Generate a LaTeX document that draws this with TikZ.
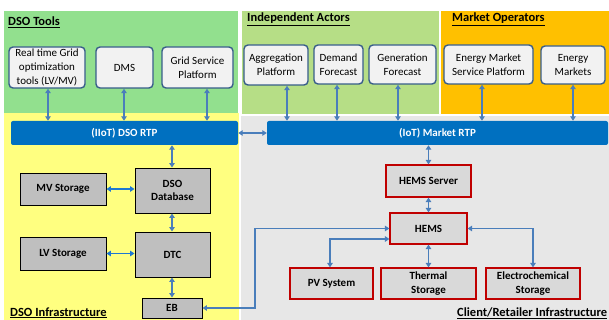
\documentclass[tikz,border=0pt]{standalone}
\usepackage{fontspec}
\setmainfont{Carlito}
\usetikzlibrary{arrows.meta}
\definecolor{dsogreen}{RGB}{146,224,142}
\definecolor{indgreen}{RGB}{182,222,134}
\definecolor{mktorange}{RGB}{255,192,0}
\definecolor{infyellow}{RGB}{255,255,128}
\definecolor{clgray}{RGB}{231,231,231}
\definecolor{barblue}{RGB}{0,112,192}
\definecolor{toolfill}{RGB}{242,242,242}
\definecolor{toolborder}{RGB}{56,93,138}
\definecolor{grayfill}{RGB}{191,191,191}
\definecolor{redfill}{RGB}{217,217,217}
\definecolor{redborder}{RGB}{192,0,0}
\definecolor{arrblue}{RGB}{74,126,187}
\definecolor{arrblue2}{RGB}{30,120,210}
\begin{document}
\begin{tikzpicture}[x=1pt,y=-1pt,
  tool/.style={draw=toolborder, line width=1.4pt, fill=toolfill, rounded corners=4pt,
    align=center, inner sep=1pt, font=\fontsize{11}{13.8}\selectfont},
  bar/.style={fill=barblue, rounded corners=2pt, text=white, inner sep=0pt,
    font=\fontsize{11}{13}\selectfont\bfseries},
  graybox/.style={draw=black, line width=0.9pt, fill=grayfill, align=center, inner sep=1pt,
    font=\fontsize{11}{13.8}\selectfont\bfseries},
  redbox/.style={draw=redborder, line width=1.2pt, fill=redfill, align=center, inner sep=1pt,
    font=\fontsize{11}{13.8}\selectfont\bfseries},
  title/.style={anchor=base west, inner sep=0pt, font=\fontsize{12.5}{14}\selectfont\bfseries},
  arr/.style={{Triangle[length=4.5pt,width=5.5pt]}-{Triangle[length=4.5pt,width=5.5pt]}, line width=1.8pt, draw=arrblue},
  arrb/.style={arr, draw=arrblue2}
]
\useasboundingbox (0,0) rectangle (609,320);
% regions
\fill[dsogreen] (4,11) rectangle (238,113);
\fill[indgreen] (242,11) rectangle (439,114);
\fill[mktorange] (441,11) rectangle (609,114);
\fill[infyellow] (4,113) rectangle (239,320);
\fill[clgray] (241,116) rectangle (609,320);
% titles
\node[title] (tdso) at (8,26) {\underline{DSO Tools}};
\node[title] (tind) at (247,21.5) {\underline{Independent Actors}};
\node[title] (tmkt) at (452,22) {\underline{Market Operators}};
\node[title] (tinf) at (10,316) {\underline{DSO Infrastructure}};
\node[title] (tcl) at (457,316.5) {\underline{Client/Retailer Infrastructure}};
% tool boxes
\node[tool, minimum width=76pt, minimum height=41pt] (rt) at (47,67.5) {Real time Grid\\optimization\\tools (LV/MV)};
\node[tool, minimum width=57pt, minimum height=41pt] (dms) at (124.5,67.5) {DMS};
\node[tool, minimum width=71pt, minimum height=41pt] (gsp) at (197.5,67.5) {Grid Service\\Platform};
\node[tool, minimum width=64pt, minimum height=40pt] (agg) at (276,65) {Aggregation\\Platform};
\node[tool, minimum width=49pt, minimum height=39pt] (dem) at (338.5,64.5) {Demand\\Forecast};
\node[tool, minimum width=67pt, minimum height=39pt] (gen) at (402.5,64.5) {Generation\\Forecast};
\node[tool, minimum width=89pt, minimum height=39pt] (ems) at (488.5,64.5) {Energy Market\\Service Platform};
\node[tool, minimum width=64pt, minimum height=38pt] (em) at (573,65) {Energy\\Markets};
% bars
\node[bar, minimum width=227pt, minimum height=24pt] (dsortp) at (124.5,133) {(IIoT) DSO RTP};
\node[bar, minimum width=341pt, minimum height=24pt] (mrtp) at (437.5,133) {(IoT) Market RTP};
% gray boxes
\node[graybox, minimum width=86pt, minimum height=32pt] (mv) at (63,189) {MV Storage};
\node[graybox, minimum width=75pt, minimum height=45pt] (db) at (172.5,190.5) {DSO\\Database};
\node[graybox, minimum width=86pt, minimum height=33pt] (lv) at (63,253.5) {LV Storage};
\node[graybox, minimum width=75pt, minimum height=45pt] (dtc) at (172.5,254.5) {DTC};
\node[graybox, minimum width=60pt, minimum height=20pt] (eb) at (172,308) {EB};
% red boxes
\node[redbox, minimum width=85pt, minimum height=32pt] (hs) at (428.5,181) {HEMS Server};
\node[redbox, minimum width=77pt, minimum height=31pt] (hems) at (428.5,228.5) {HEMS};
\node[redbox, minimum width=83pt, minimum height=31pt] (pv) at (331.5,283.5) {PV System};
\node[redbox, minimum width=95pt, minimum height=31pt] (th) at (428.5,283.5) {Thermal\\Storage};
\node[redbox, minimum width=94pt, minimum height=31pt] (ec) at (533,283.5) {Electrochemical\\Storage};
% x-coordinates for vertical connectors
\coordinate (x1) at (48,0);
\coordinate (x2) at (124,0);
\coordinate (x3) at (207,0);
\coordinate (x4) at (287,0);
\coordinate (x5) at (337,0);
\coordinate (x6) at (398,0);
\coordinate (x7) at (482,0);
\coordinate (x8) at (573,0);
\coordinate (xd) at (172,0);
\coordinate (elbow) at (255,228.5);
\coordinate (pvk) at (330,239);
% top connectors
\draw[arr] (rt.south -| x1) -- (dsortp.north -| x1);
\draw[arr] (dms.south -| x2) -- (dsortp.north -| x2);
\draw[arr] (gsp.south -| x3) -- (dsortp.north -| x3);
\draw[arr] (agg.south -| x4) -- (mrtp.north -| x4);
\draw[arr] (dem.south -| x5) -- (mrtp.north -| x5);
\draw[arr] (gen.south -| x6) -- (mrtp.north -| x6);
\draw[arr] (ems.south -| x7) -- (mrtp.north -| x7);
\draw[arr] (em.south -| x8) -- (mrtp.north -| x8);
% bar to bar
\draw[arr] (dsortp.east) -- (mrtp.west);
% DSO infrastructure
\draw[arr] (dsortp.south -| xd) -- (db.north -| xd);
\draw[arr] (db.south -| xd) -- (dtc.north -| xd);
\draw[arr] (dtc.south -| xd) -- (eb.north -| xd);
\draw[arrb] (mv.east) -- (db.west |- mv.east);
\draw[arrb] (lv.east) -- (dtc.west |- lv.east);
% client side
\draw[arr] (mrtp.south -| hs.north) -- (hs.north);
\draw[arr] (hs.south) -- (hems.north);
\draw[arr] (hems.south) -- (th.north);
\draw[arr] (eb.east) -| (elbow) -- (hems.west);
\draw[arr] (pvk -| hems.west) -| (pv.north -| pvk);
\draw[arr] (hems.east) -| (ec.north);
\end{tikzpicture}
\end{document}
